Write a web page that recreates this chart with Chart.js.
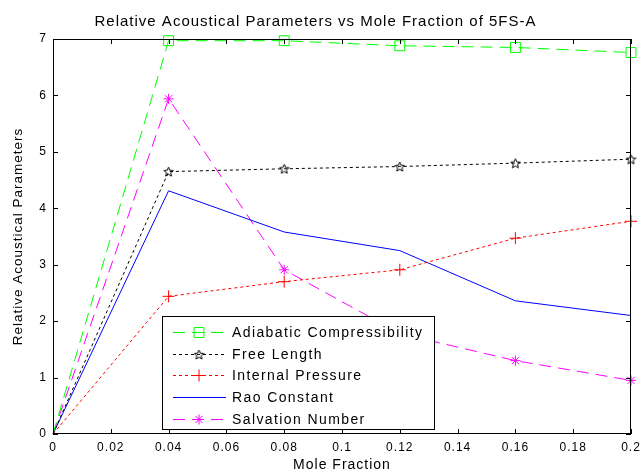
<!DOCTYPE html>
<html>
<head>
<meta charset="utf-8">
<script src="https://cdn.jsdelivr.net/npm/chart.js@4.4.1/dist/chart.umd.min.js"></script>
<style>
  html, body { margin: 0; padding: 0; background: #fff; }
  #wrap { width: 643px; height: 472px; }
</style>
</head>
<body>
<div id="wrap"><canvas id="acoustic"></canvas></div>
<script>
// values
const moleFraction = [0, 0.04, 0.08, 0.12, 0.16, 0.2];
const adiabaticCompressibility = [0, 6.97, 6.97, 6.88, 6.85, 6.76];
const freeLength = [0, 4.65, 4.70, 4.74, 4.80, 4.87];
const internalPressure = [0, 2.44, 2.70, 2.91, 3.47, 3.77];
const raoConstant = [0, 4.31, 3.58, 3.25, 2.36, 2.10];
const salvationNumber = [0, 5.94, 2.91, 1.78, 1.30, 0.95];

const xTicks = [0, 0.02, 0.04, 0.06, 0.08, 0.1, 0.12, 0.14, 0.16, 0.18, 0.2];
const yTicks = [0, 1, 2, 3, 4, 5, 6, 7];

const FONT = 'Liberation Sans, Arial, sans-serif';

function pairs(ys) {
  return moleFraction.map((x, i) => ({ x: x, y: ys[i] }));
}

// no marker on the origin point, like the matlab figure
function markers(r) {
  return moleFraction.map(x => (x === 0 ? 0 : r));
}

// pentagram marker (matlab 'p')
function pentagram(size, color) {
  const c = document.createElement('canvas');
  c.width = c.height = size;
  const g = c.getContext('2d');
  const cx = size / 2, cy = size / 2 + 0.5, r = size / 2 - 0.5, ri = r * 0.45;
  g.beginPath();
  for (let i = 0; i < 10; i++) {
    const a = -Math.PI / 2 + i * Math.PI / 5;
    const rr = i % 2 ? ri : r;
    g.lineTo(cx + rr * Math.cos(a), cy + rr * Math.sin(a));
  }
  g.closePath();
  g.strokeStyle = color;
  g.lineWidth = 1;
  g.stroke();
  return c;
}

const starImg = pentagram(11, '#000');

// matlab text is spaced out a bit
const spacing = {
  id: 'spacing',
  beforeDraw(chart) { chart.ctx.letterSpacing = '1px'; },
  afterDraw(chart) { chart.ctx.letterSpacing = '0px'; }
};

// box + inward tick marks, matlab style
const framePlugin = {
  id: 'frame',
  afterDatasetsDraw(chart) {
    const { ctx, chartArea: a, scales } = chart;
    ctx.save();
    ctx.strokeStyle = '#000';
    ctx.lineWidth = 1;
    ctx.strokeRect(a.left + 0.5, a.top + 0.5, a.right - a.left - 1, a.bottom - a.top - 1);
    ctx.beginPath();
    xTicks.forEach(v => {
      const px = Math.round(scales.x.getPixelForValue(v)) + 0.5;
      ctx.moveTo(px, a.bottom); ctx.lineTo(px, a.bottom - 5);
      ctx.moveTo(px, a.top); ctx.lineTo(px, a.top + 5);
    });
    yTicks.forEach(v => {
      const py = Math.round(scales.y.getPixelForValue(v)) + 0.5;
      ctx.moveTo(a.left, py); ctx.lineTo(a.left + 5, py);
      ctx.moveTo(a.right, py); ctx.lineTo(a.right - 5, py);
    });
    ctx.stroke();
    ctx.restore();
  }
};

// legend box inside the plot
const boxLegend = {
  id: 'boxLegend',
  afterDraw(chart) {
    const { ctx, chartArea: a } = chart;
    const left = a.left + 109, top = a.top + 277, w = 272, h = 113;
    ctx.save();
    ctx.fillStyle = '#fff';
    ctx.fillRect(left, top, w, h);
    ctx.strokeStyle = '#000';
    ctx.lineWidth = 1;
    ctx.strokeRect(left + 0.5, top + 0.5, w, h);
    chart.data.datasets.forEach((ds, i) => {
      const y = Math.round(top + 16 + i * 21.7) + 0.5;
      ctx.strokeStyle = ds.borderColor;
      ctx.lineWidth = 1.2;
      ctx.setLineDash(ds.borderDash || []);
      ctx.beginPath();
      ctx.moveTo(left + 11, y);
      ctx.lineTo(left + 64, y);
      ctx.stroke();
      ctx.setLineDash([]);
      if (ds.markerSize > 0) {
        ctx.lineWidth = 1;
        ctx.fillStyle = 'rgba(0,0,0,0)';
        Chart.helpers.drawPoint(ctx, {
          pointStyle: ds.pointStyle, radius: ds.markerSize, borderWidth: 1, rotation: 0
        }, left + 37, y);
      }
      ctx.fillStyle = '#000';
      ctx.font = '14px ' + FONT;
      ctx.letterSpacing = '1.4px';
      ctx.textBaseline = 'middle';
      ctx.fillText(ds.label, left + 70, y + 1);
    });
    ctx.restore();
  }
};

new Chart(document.getElementById('acoustic'), {
  type: 'line',
  data: {
    datasets: [
      {
        label: 'Adiabatic Compressibility',
        data: pairs(adiabaticCompressibility),
        borderColor: '#00ff00',
        borderDash: [12, 7],
        pointStyle: 'rect',
        markerSize: 7
      },
      {
        label: 'Free Length',
        data: pairs(freeLength),
        borderColor: '#000000',
        borderDash: [3, 3],
        pointStyle: starImg,
        markerSize: 6
      },
      {
        label: 'Internal Pressure',
        data: pairs(internalPressure),
        borderColor: '#ff0000',
        borderDash: [3, 3],
        pointStyle: 'cross',
        markerSize: 6
      },
      {
        label: 'Rao Constant',
        data: pairs(raoConstant),
        borderColor: '#0000ff',
        markerSize: 0
      },
      {
        label: 'Salvation Number',
        data: pairs(salvationNumber),
        borderColor: '#ff00ff',
        borderDash: [12, 7],
        pointStyle: 'star',
        markerSize: 5
      }
    ].map(ds => Object.assign({
      borderWidth: 1,
      pointRadius: markers(ds.markerSize),
      pointHoverRadius: markers(ds.markerSize),
      pointBorderWidth: 1,
      pointBorderColor: ds.borderColor,
      pointBackgroundColor: 'rgba(0,0,0,0)',
      tension: 0,
      clip: false
    }, ds))
  },
  options: {
    responsive: true,
    maintainAspectRatio: false,
    animation: false,
    events: [],
    layout: { padding: { left: 0, right: 12, top: 0, bottom: 0 } },
    plugins: {
      legend: { display: false },
      tooltip: { enabled: false },
      title: {
        display: true,
        text: 'Relative Acoustical Parameters vs Mole Fraction of 5FS-A',
        color: '#000',
        font: { family: FONT, size: 15, weight: 'normal' },
        padding: { top: 12.5, bottom: 8.5 }
      }
    },
    scales: {
      x: {
        type: 'linear',
        min: 0,
        max: 0.2,
        afterBuildTicks: s => { s.ticks = xTicks.map(v => ({ value: v })); },
        afterFit: s => { s.height = 38; s.paddingLeft = 0; s.paddingRight = 0; },
        grid: { display: false, drawTicks: false },
        border: { display: false },
        ticks: {
          color: '#000',
          padding: 6,
          maxRotation: 0,
          font: { family: FONT, size: 12 },
          callback: v => String(Number(v.toFixed(2)))
        },
        title: {
          display: true,
          text: 'Mole Fraction',
          color: '#000',
          font: { family: FONT, size: 14 },
          padding: { top: 0, bottom: -2 }
        }
      },
      y: {
        min: 0,
        max: 7,
        afterBuildTicks: s => { s.ticks = yTicks.map(v => ({ value: v })); },
        afterFit: s => { s.width = 53; },
        grid: { display: false, drawTicks: false },
        border: { display: false },
        ticks: {
          color: '#000',
          padding: 6,
          font: { family: FONT, size: 12 }
        },
        title: {
          display: true,
          text: 'Relative Acoustical Parameters',
          color: '#000',
          font: { family: FONT, size: 13.5 },
          padding: { top: 10, bottom: 0 }
        }
      }
    }
  },
  plugins: [spacing, framePlugin, boxLegend]
});
</script>
</body>
</html>
